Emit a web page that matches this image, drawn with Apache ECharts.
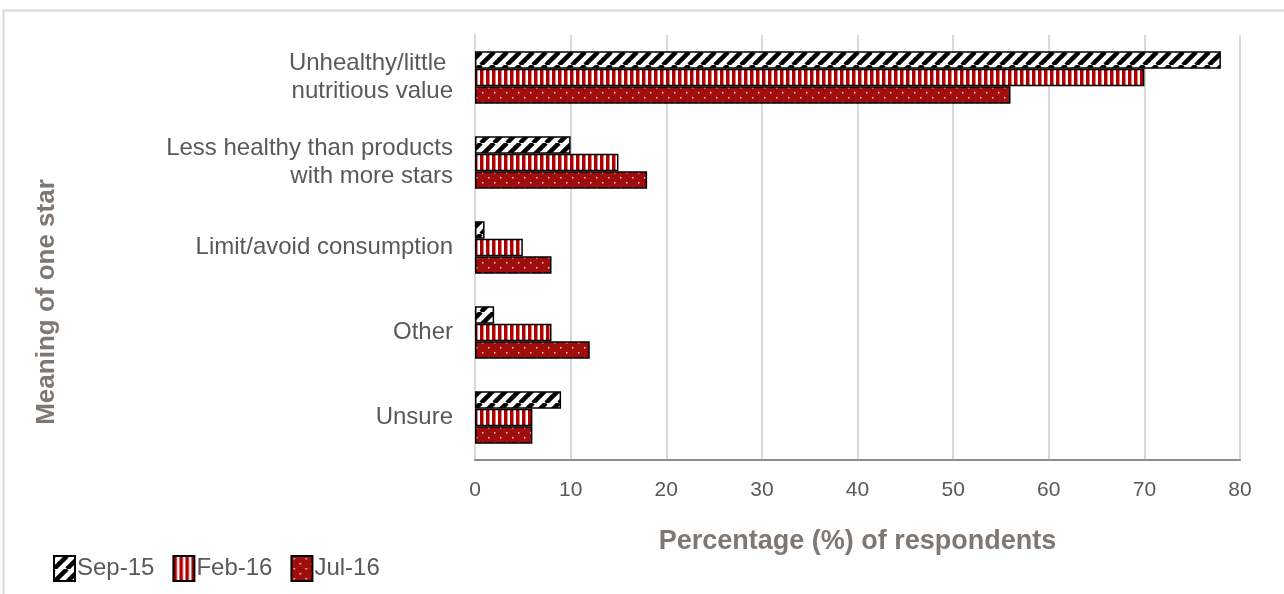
<!DOCTYPE html>
<html>
<head>
<meta charset="utf-8">
<script src="https://cdn.jsdelivr.net/npm/echarts@6/dist/echarts.min.js"></script>
<style>
  html, body { margin: 0; padding: 0; background: #fff; }
  #chart { width: 1284px; height: 594px; }
</style>
</head>
<body>
<div id="chart"></div>
<script>
const categories = ['Unhealthy/little \nnutritious value', 'Less healthy than products\nwith more stars', 'Limit/avoid consumption', 'Other', 'Unsure']
const seriesNames = ['Sep-15', 'Feb-16', 'Jul-16']
const sep15 = [78, 10, 1, 2, 9]
const feb16 = [70, 15, 5, 8, 6]
const jul16 = [56, 18, 8, 12, 6]
const xTicks = [0, 10, 20, 30, 40, 50, 60, 70, 80]

// 斜线图案
function hatchPattern () {
  const c = document.createElement('canvas')
  c.width = 13; c.height = 13
  const ctx = c.getContext('2d')
  ctx.fillStyle = '#fff'
  ctx.fillRect(0, 0, 13, 13)
  ctx.strokeStyle = '#000'
  ctx.lineWidth = 4.5
  for (let k = -13; k <= 26; k += 13) {
    ctx.beginPath()
    ctx.moveTo(k, 13)
    ctx.lineTo(k + 13, 0)
    ctx.stroke()
  }
  return c
}

// 竖条纹
function stripePattern () {
  const c = document.createElement('canvas')
  c.width = 6; c.height = 6
  const ctx = c.getContext('2d')
  ctx.fillStyle = '#fff'
  ctx.fillRect(0, 0, 6, 6)
  ctx.fillStyle = '#b00000'
  ctx.fillRect(0, 0, 3.5, 6)
  return c
}

// 点状图案
function dotPattern () {
  const c = document.createElement('canvas')
  c.width = 12; c.height = 10
  const ctx = c.getContext('2d')
  ctx.fillStyle = '#a00d0d'
  ctx.fillRect(0, 0, 12, 10)
  ctx.fillStyle = '#f3d0d0'
  ctx.fillRect(2, 2, 1.5, 1.5)
  ctx.fillRect(8, 7, 1.5, 1.5)
  return c
}

const patterns = [hatchPattern(), stripePattern(), dotPattern()]
const values = [sep15, feb16, jul16]

let myChart = echarts.init(document.getElementById('chart'))
let option = {
  animation: false,
  graphic: [
    {
      type: 'polyline',
      shape: { points: [[3.5, 594], [3.5, 10.5], [1284, 10.5]] },
      style: { stroke: '#d9d9d9', lineWidth: 2, fill: null }
    },
    {
      // 纵轴标题
      type: 'text',
      x: 47,
      y: 302,
      rotation: Math.PI / 2,
      style: {
        text: 'Meaning of one star',
        fill: '#7f7772',
        font: 'bold 26px "Liberation Sans"',
        align: 'center',
        verticalAlign: 'middle'
      }
    }
  ],
  legend: {
    left: 48,
    top: 550,
    icon: 'rect',
    itemWidth: 21,
    itemHeight: 25,
    itemGap: 18,
    textStyle: { color: '#595959', fontSize: 24, fontFamily: 'Liberation Sans', padding: [0, 0, 0, -3] },
    data: seriesNames
  },
  grid: {
    left: 475,
    right: 44,
    top: 35,
    bottom: 134
  },
  xAxis: {
    type: 'value',
    min: 0,
    max: 80,
    interval: 10,
    name: 'Percentage (%) of respondents',
    nameLocation: 'middle',
    nameGap: 68,
    nameTextStyle: { color: '#7f7772', fontSize: 27, fontWeight: 'bold', fontFamily: 'Liberation Sans' },
    axisLine: { show: true, lineStyle: { color: '#8c8c8c', width: 2 } },
    axisTick: { show: false },
    axisLabel: {
      color: '#595959',
      fontSize: 21,
      fontFamily: 'Liberation Sans Narrow, Liberation Sans',
      margin: 20,
      formatter: v => xTicks.includes(v) ? String(v) : ''
    },
    splitLine: { show: true, lineStyle: { color: '#d9d9d9', width: 2 } }
  },
  yAxis: {
    type: 'category',
    inverse: true,
    data: categories,
    axisLine: { show: true, lineStyle: { color: '#d9d9d9', width: 2 } },
    axisTick: { show: false },
    axisLabel: { color: '#595959', fontSize: 24, fontFamily: 'Liberation Sans', margin: 22, lineHeight: 28 }
  },
  series: seriesNames.map((name, i) => ({
    name: name,
    type: 'bar',
    data: values[i],
    barGap: '0%',
    barCategoryGap: '38%',
    itemStyle: {
      color: { image: patterns[i], repeat: 'repeat' },
      borderColor: '#000',
      borderWidth: 1.5
    }
  }))
}

myChart.setOption(option)
</script>
</body>
</html>
